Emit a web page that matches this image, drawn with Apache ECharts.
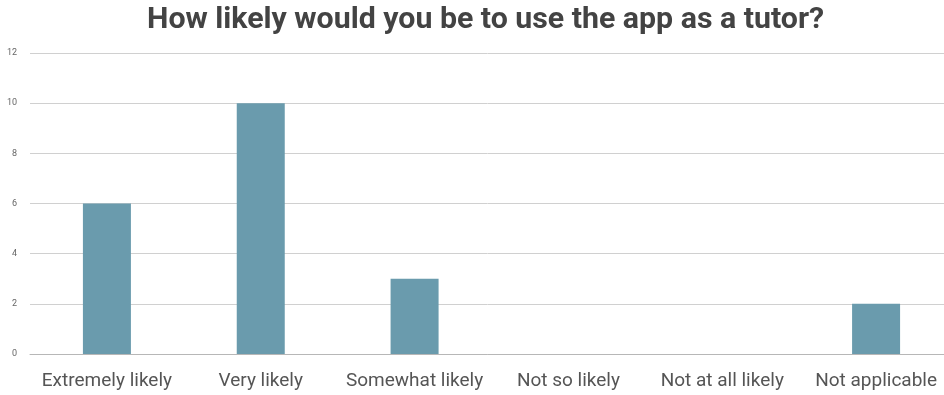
<!DOCTYPE html>
<html lang="en">

<head>
    <meta charset="UTF-8">
    <title>How likely would you be to use the app as a tutor?</title>
    <style>
        html, body {
            margin: 0;
            padding: 0;
            background: #fff;
        }
        #app {
            width: 944px;
            height: 395px;
        }
    </style>
</head>

<body>
    <div id="app"></div>
</body>
<script src="https://cdn.jsdelivr.net/npm/echarts@6/dist/echarts.min.js"></script>
<script>
    var categories = ['Extremely likely', 'Very likely', 'Somewhat likely', 'Not so likely', 'Not at all likely', 'Not applicable'];
    var counts = [6, 10, 3, 0, 0, 2];

    var chart = echarts.init(document.getElementById('app'));

    var option = {
        animation: false,
        title: {
            text: 'How likely would you be to use the app as a tutor?',
            left: 147,
            top: 5,
            padding: 0,
            textStyle: {
                fontFamily: 'Roboto',
                fontWeight: 'bold',
                fontSize: 30.3,
                color: '#434343'
            }
        },
        grid: {
            left: 30,
            width: 923,
            top: 53,
            height: 301,
            outerBoundsMode: 'none'
        },
        xAxis: [{
            type: 'category',
            data: categories,
            axisLine: {
                show: true,
                lineStyle: { color: '#b7b7b7', width: 1 }
            },
            axisTick: { show: false },
            axisLabel: {
                interval: 0,
                fontFamily: 'Roboto',
                fontSize: 19,
                color: '#555',
                margin: 18
            }
        }],
        yAxis: [{
            type: 'value',
            min: 0,
            max: 12,
            interval: 2,
            axisLine: { show: false },
            axisTick: { show: false },
            axisLabel: {
                fontFamily: 'Roboto',
                fontSize: 9,
                color: '#666',
                margin: 13
            },
            splitLine: {
                show: true,
                lineStyle: { color: '#d0d0d0', width: 1 }
            }
        }],
        series: [{
            type: 'bar',
            data: counts,
            barWidth: 48,
            itemStyle: { color: '#6a9bad' }
        }]
    };
    chart.setOption(option);
</script>

</html>
